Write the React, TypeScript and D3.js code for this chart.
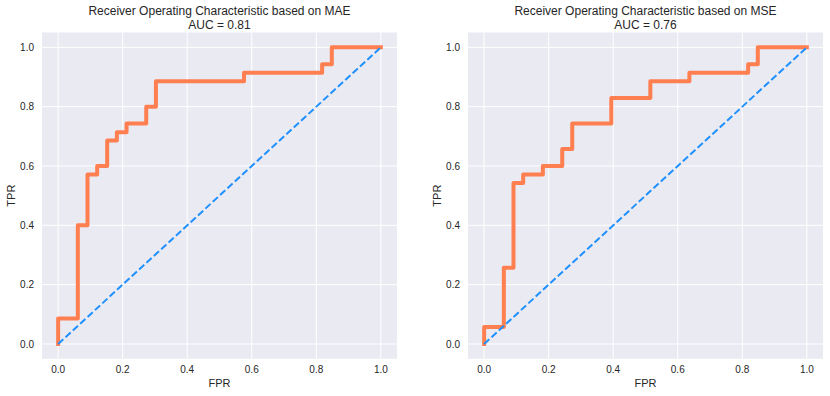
import React, { useEffect, useRef } from 'react';
import * as d3 from 'd3';

// ROC step curves (fpr, tpr pairs)
const maeFpr = [0, 0, 0.061, 0.061, 0.091, 0.091, 0.121, 0.121, 0.152, 0.152, 0.182, 0.182, 0.212, 0.212, 0.273, 0.273, 0.303, 0.303, 0.576, 0.576, 0.818, 0.818, 0.848, 0.848, 1.0];
const maeTpr = [0, 0.086, 0.086, 0.4, 0.4, 0.571, 0.571, 0.6, 0.6, 0.686, 0.686, 0.714, 0.714, 0.743, 0.743, 0.8, 0.8, 0.886, 0.886, 0.914, 0.914, 0.943, 0.943, 1.0, 1.0];

const mseFpr = [0, 0, 0.061, 0.061, 0.091, 0.091, 0.121, 0.121, 0.182, 0.182, 0.242, 0.242, 0.273, 0.273, 0.394, 0.394, 0.515, 0.515, 0.636, 0.636, 0.818, 0.818, 0.848, 0.848, 1.0];
const mseTpr = [0, 0.057, 0.057, 0.257, 0.257, 0.543, 0.543, 0.571, 0.571, 0.6, 0.6, 0.657, 0.657, 0.743, 0.743, 0.829, 0.829, 0.886, 0.886, 0.914, 0.914, 0.943, 0.943, 1.0, 1.0];

const chanceLine = [0, 1];
const ticks = [0, 0.2, 0.4, 0.6, 0.8, 1.0];

const panels = [
  { title: 'Receiver Operating Characteristic based on MAE', auc: 'AUC = 0.81', fpr: maeFpr, tpr: maeTpr, left: 42 },
  { title: 'Receiver Operating Characteristic based on MSE', auc: 'AUC = 0.76', fpr: mseFpr, tpr: mseTpr, left: 468 },
];

const App = () => {
  const chartRef = useRef(null);

  useEffect(() => {
    const width = 830;
    const height = 396;
    const axW = 355;
    const top = 32.5;
    const bottom = 358.8;
    const font = 'Arial, "Liberation Sans", sans-serif';

    const container = d3.select(chartRef.current);
    container.select('svg').remove();

    const svg = container
      .append('svg')
      .attr('width', width)
      .attr('height', height)
      .style('display', 'block')
      .style('font-family', font);

    svg.append('rect').attr('width', width).attr('height', height).attr('fill', '#ffffff');

    panels.forEach(p => {
      const x = d3.scaleLinear().domain([-0.05, 1.05]).range([p.left, p.left + axW]);
      const y = d3.scaleLinear().domain([-0.05, 1.05]).range([bottom, top]);
      const g = svg.append('g');

      g.append('rect')
        .attr('x', p.left)
        .attr('y', top)
        .attr('width', axW)
        .attr('height', bottom - top)
        .attr('fill', '#EAEAF2');

      // grid
      g.selectAll('.vgrid')
        .data(ticks)
        .enter()
        .append('line')
        .attr('x1', d => x(d))
        .attr('x2', d => x(d))
        .attr('y1', top)
        .attr('y2', bottom)
        .style('stroke', '#ffffff')
        .style('stroke-width', 1);

      g.selectAll('.hgrid')
        .data(ticks)
        .enter()
        .append('line')
        .attr('y1', d => y(d))
        .attr('y2', d => y(d))
        .attr('x1', p.left)
        .attr('x2', p.left + axW)
        .style('stroke', '#ffffff')
        .style('stroke-width', 1);

      // tick labels
      g.selectAll('.xt')
        .data(ticks)
        .enter()
        .append('text')
        .attr('x', d => x(d))
        .attr('y', bottom + 14)
        .attr('text-anchor', 'middle')
        .attr('font-size', 10)
        .attr('fill', '#262626')
        .text(d => d3.format('.1f')(d));

      g.selectAll('.yt')
        .data(ticks)
        .enter()
        .append('text')
        .attr('x', p.left - 8)
        .attr('y', d => y(d) + 3.6)
        .attr('text-anchor', 'end')
        .attr('font-size', 10)
        .attr('fill', '#262626')
        .text(d => d3.format('.1f')(d));

      // axis labels
      g.append('text')
        .attr('x', p.left + axW / 2)
        .attr('y', 387)
        .attr('text-anchor', 'middle')
        .attr('font-size', 11)
        .attr('fill', '#262626')
        .text('FPR');

      g.append('text')
        .attr('transform', `translate(${p.left - 27},${(top + bottom) / 2}) rotate(-90)`)
        .attr('text-anchor', 'middle')
        .attr('font-size', 11)
        .attr('fill', '#262626')
        .text('TPR');

      // title, two lines
      g.append('text')
        .attr('x', p.left + axW / 2)
        .attr('y', 15)
        .attr('text-anchor', 'middle')
        .attr('font-size', 12)
        .attr('fill', '#262626')
        .text(p.title);

      g.append('text')
        .attr('x', p.left + axW / 2)
        .attr('y', 28.5)
        .attr('text-anchor', 'middle')
        .attr('font-size', 12)
        .attr('fill', '#262626')
        .text(p.auc);

      const line = d3.line<number>()
        .x((d, i) => x(p.fpr[i]))
        .y(d => y(d));

      g.append('path')
        .datum(p.tpr)
        .attr('d', line)
        .style('fill', 'none')
        .style('stroke', '#FF7F50')
        .style('stroke-width', 4)
        .style('stroke-linejoin', 'round')
        .style('stroke-linecap', 'square');

      const diag = d3.line<number>()
        .x(d => x(d))
        .y(d => y(d));

      g.append('path')
        .datum(chanceLine)
        .attr('d', diag)
        .style('fill', 'none')
        .style('stroke', '#1E90FF')
        .style('stroke-width', 2)
        .style('stroke-dasharray', '7,3');
    });
  }, []);

  return <div ref={chartRef} style={{ position: 'absolute', left: 0, top: 0 }} />;
};

export default App;
